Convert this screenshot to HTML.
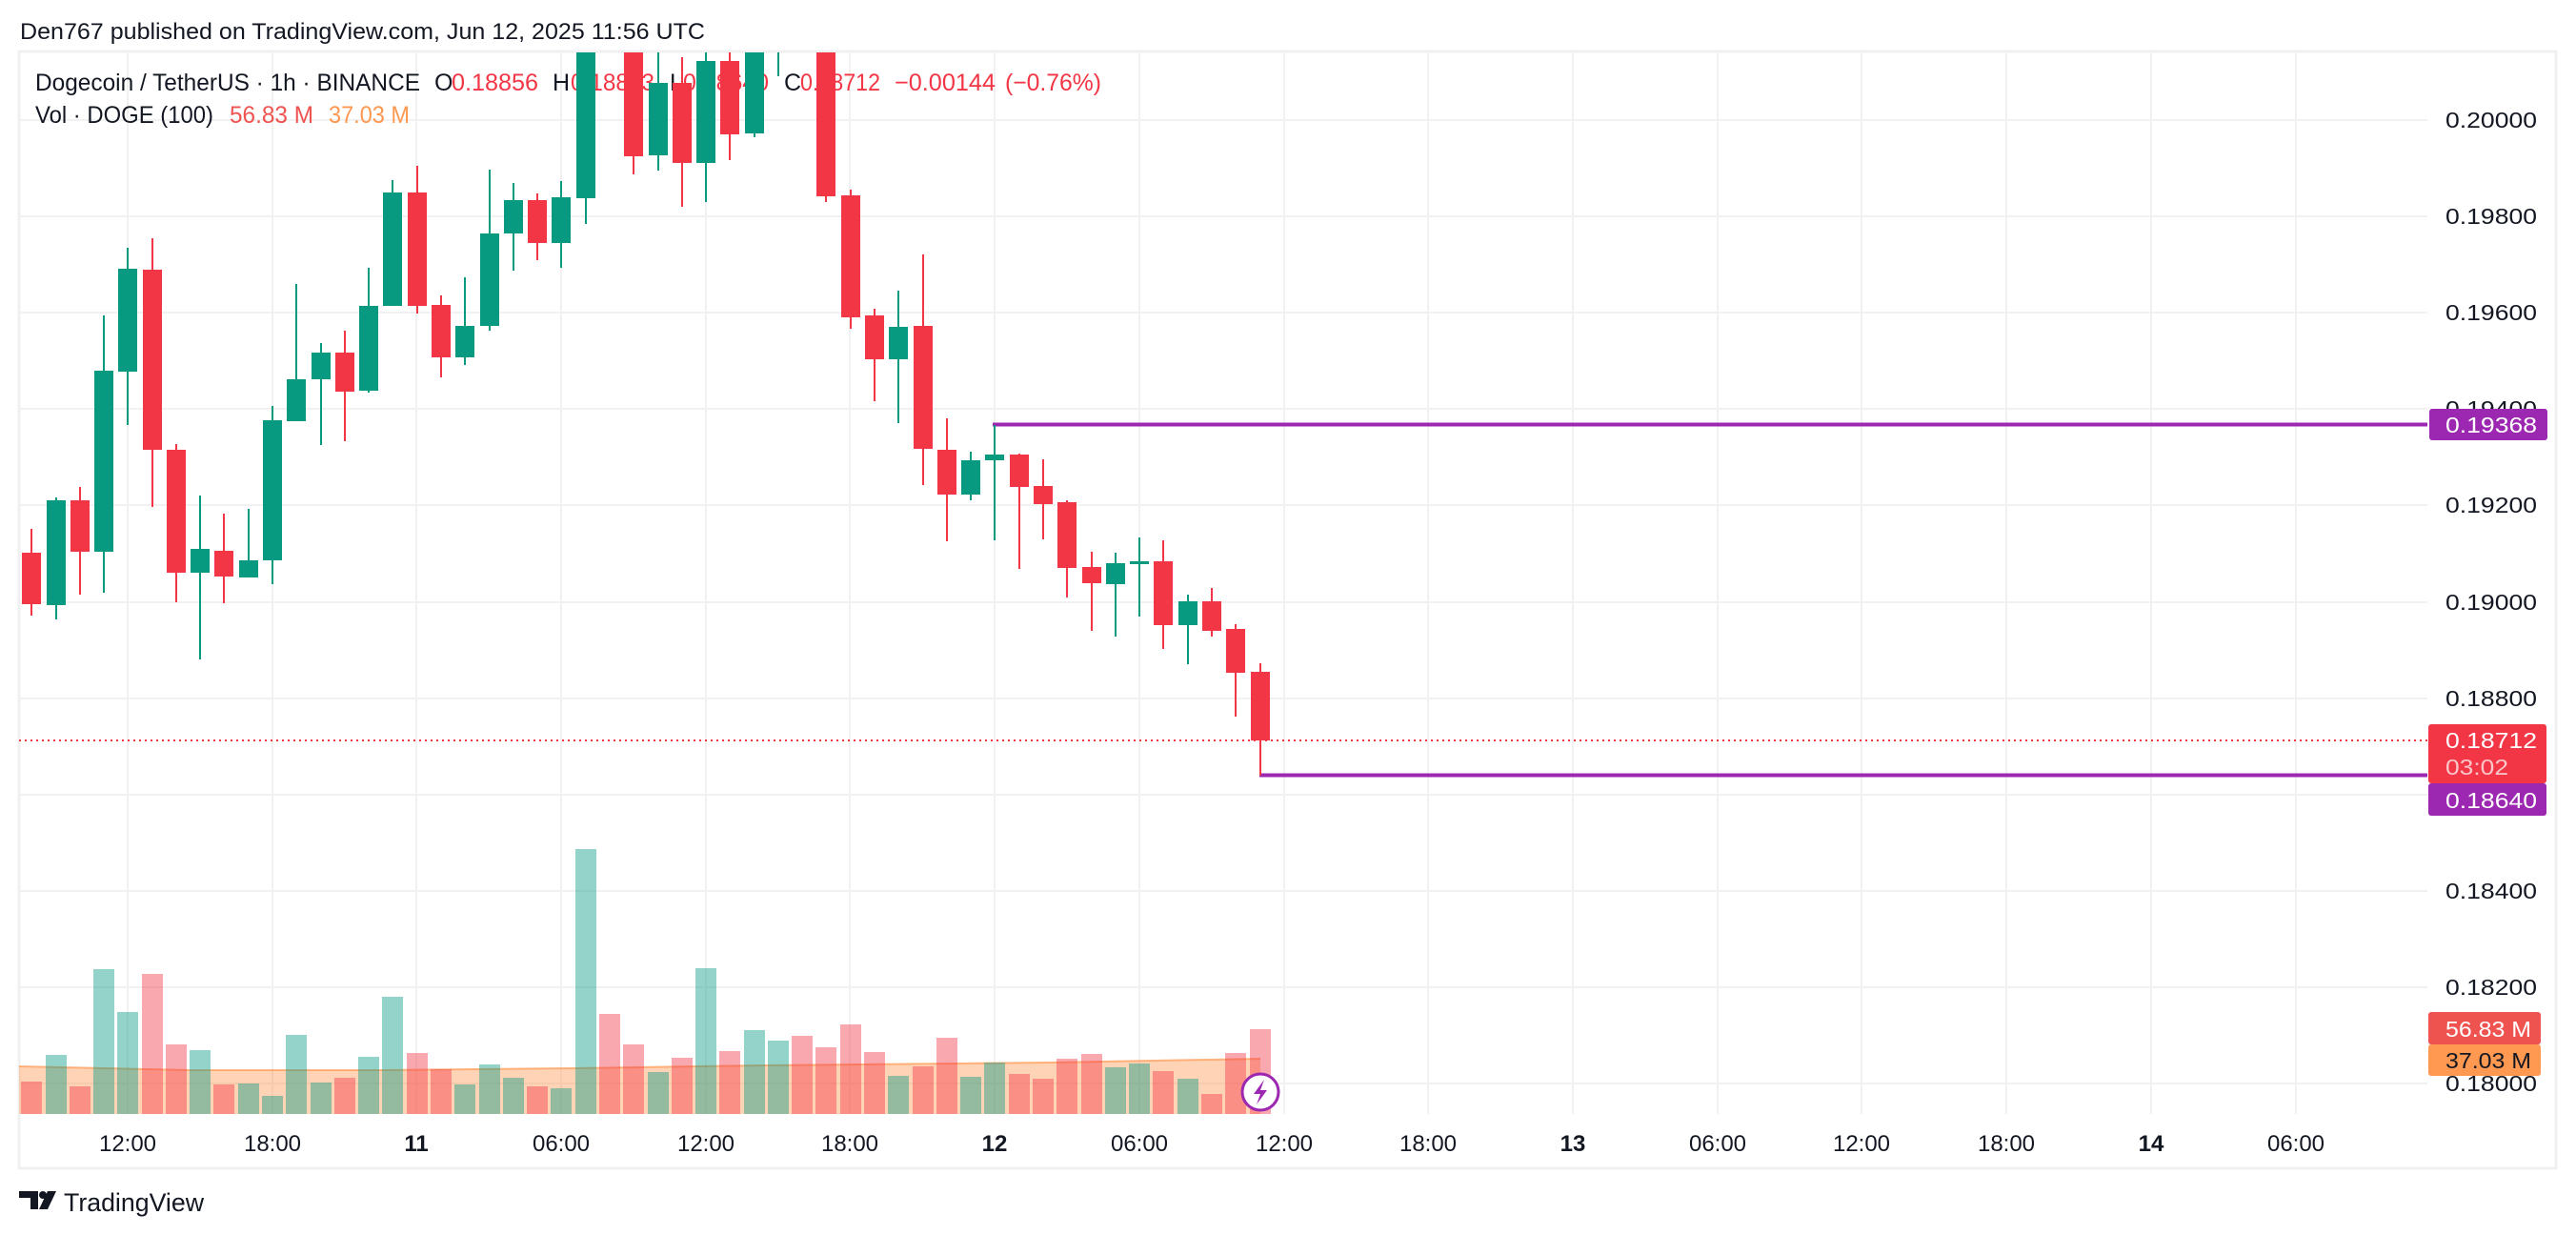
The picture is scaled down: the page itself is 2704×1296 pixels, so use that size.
<!DOCTYPE html>
<html><head><meta charset="utf-8"><style>
html,body{margin:0;padding:0;background:#fff;}
svg{display:block;font-family:"Liberation Sans",sans-serif;}
</style></head><body>
<svg width="2704" height="1296" viewBox="0 0 2704 1296" xmlns="http://www.w3.org/2000/svg">
<defs><clipPath id="pc"><rect x="20" y="55" width="2528" height="1114"/></clipPath></defs>
<rect width="2704" height="1296" fill="#fff"/>
<text x="21" y="41" font-size="24" fill="#131722" textLength="719" lengthAdjust="spacingAndGlyphs">Den767 published on TradingView.com, Jun 12, 2025 11:56 UTC</text>
<rect x="20" y="54" width="2663" height="1172" fill="none" stroke="#f0f0f0" stroke-width="3"/>
<g stroke="#f1f1f1" stroke-width="2">
<line x1="20" x2="2548" y1="126" y2="126"/><line x1="20" x2="2548" y1="227" y2="227"/><line x1="20" x2="2548" y1="328" y2="328"/><line x1="20" x2="2548" y1="429" y2="429"/><line x1="20" x2="2548" y1="530" y2="530"/><line x1="20" x2="2548" y1="632" y2="632"/><line x1="20" x2="2548" y1="733" y2="733"/><line x1="20" x2="2548" y1="834" y2="834"/><line x1="20" x2="2548" y1="935" y2="935"/><line x1="20" x2="2548" y1="1036" y2="1036"/><line x1="20" x2="2548" y1="1137" y2="1137"/>
<line x1="134" x2="134" y1="55" y2="1169"/><line x1="286" x2="286" y1="55" y2="1169"/><line x1="437" x2="437" y1="55" y2="1169"/><line x1="589" x2="589" y1="55" y2="1169"/><line x1="741" x2="741" y1="55" y2="1169"/><line x1="892" x2="892" y1="55" y2="1169"/><line x1="1044" x2="1044" y1="55" y2="1169"/><line x1="1196" x2="1196" y1="55" y2="1169"/><line x1="1348" x2="1348" y1="55" y2="1169"/><line x1="1499" x2="1499" y1="55" y2="1169"/><line x1="1651" x2="1651" y1="55" y2="1169"/><line x1="1803" x2="1803" y1="55" y2="1169"/><line x1="1954" x2="1954" y1="55" y2="1169"/><line x1="2106" x2="2106" y1="55" y2="1169"/><line x1="2258" x2="2258" y1="55" y2="1169"/><line x1="2410" x2="2410" y1="55" y2="1169"/>
</g>
<!-- legend -->
<g font-size="25">
<text x="37" y="95" fill="#131722" textLength="404" lengthAdjust="spacingAndGlyphs">Dogecoin / TetherUS · 1h · BINANCE</text>
<text x="456" y="95" fill="#131722">O</text><text x="474" y="95" fill="#f23645" textLength="91" lengthAdjust="spacingAndGlyphs">0.18856</text>
<text x="580" y="95" fill="#131722">H</text><text x="599" y="95" fill="#f23645" textLength="88" lengthAdjust="spacingAndGlyphs">0.18883</text>
<text x="703" y="95" fill="#131722">L</text><text x="717" y="95" fill="#f23645" textLength="90" lengthAdjust="spacingAndGlyphs">0.18640</text>
<text x="823" y="95" fill="#131722">C</text><text x="840" y="95" fill="#f23645" textLength="84" lengthAdjust="spacingAndGlyphs">0.18712</text>
<text x="939" y="95" fill="#f23645" textLength="106" lengthAdjust="spacingAndGlyphs">−0.00144</text>
<text x="1055" y="95" fill="#f23645" textLength="101" lengthAdjust="spacingAndGlyphs">(−0.76%)</text>
<text x="37" y="129" fill="#131722" textLength="187" lengthAdjust="spacingAndGlyphs">Vol · DOGE (100)</text>
<text x="241" y="129" fill="#ef5350" textLength="88" lengthAdjust="spacingAndGlyphs">56.83 M</text>
<text x="345" y="129" fill="#ff9850" textLength="85" lengthAdjust="spacingAndGlyphs">37.03 M</text>
</g>
<g clip-path="url(#pc)">
<!-- volume MA area -->
<polygon points="20,1119 200,1123 400,1123 600,1121 800,1118 900,1117 1100,1115 1323,1111 1323,1169 20,1169" fill="rgba(255,140,60,0.38)"/>
<polyline points="20,1119 200,1123 400,1123 600,1121 800,1118 900,1117 1100,1115 1323,1111" fill="none" stroke="rgba(255,140,60,0.6)" stroke-width="2"/>
<g fill="rgba(8,153,129,0.43)">
<rect x="48" y="1107" width="22" height="62"/><rect x="98" y="1017" width="22" height="152"/><rect x="123" y="1062" width="22" height="107"/><rect x="199" y="1102" width="22" height="67"/><rect x="250" y="1137" width="22" height="32"/><rect x="275" y="1150" width="22" height="19"/><rect x="300" y="1086" width="22" height="83"/><rect x="326" y="1136" width="22" height="33"/><rect x="376" y="1109" width="22" height="60"/><rect x="401" y="1046" width="22" height="123"/><rect x="477" y="1138" width="22" height="31"/><rect x="503" y="1117" width="22" height="52"/><rect x="528" y="1131" width="22" height="38"/><rect x="578" y="1142" width="22" height="27"/><rect x="604" y="891" width="22" height="278"/><rect x="680" y="1125" width="22" height="44"/><rect x="730" y="1016" width="22" height="153"/><rect x="781" y="1081" width="22" height="88"/><rect x="806" y="1092" width="22" height="77"/><rect x="932" y="1129" width="22" height="40"/><rect x="1008" y="1130" width="22" height="39"/><rect x="1033" y="1115" width="22" height="54"/><rect x="1160" y="1120" width="22" height="49"/><rect x="1185" y="1116" width="22" height="53"/><rect x="1236" y="1132" width="22" height="37"/>
</g>
<g fill="rgba(242,54,69,0.43)">
<rect x="22" y="1135" width="22" height="34"/><rect x="73" y="1140" width="22" height="29"/><rect x="149" y="1022" width="22" height="147"/><rect x="174" y="1096" width="22" height="73"/><rect x="224" y="1138" width="22" height="31"/><rect x="351" y="1131" width="22" height="38"/><rect x="427" y="1105" width="22" height="64"/><rect x="452" y="1122" width="22" height="47"/><rect x="553" y="1140" width="22" height="29"/><rect x="629" y="1064" width="22" height="105"/><rect x="654" y="1096" width="22" height="73"/><rect x="705" y="1110" width="22" height="59"/><rect x="755" y="1103" width="22" height="66"/><rect x="831" y="1087" width="22" height="82"/><rect x="856" y="1099" width="22" height="70"/><rect x="882" y="1075" width="22" height="94"/><rect x="907" y="1104" width="22" height="65"/><rect x="958" y="1119" width="22" height="50"/><rect x="983" y="1089" width="22" height="80"/><rect x="1059" y="1127" width="22" height="42"/><rect x="1084" y="1132" width="22" height="37"/><rect x="1109" y="1111" width="22" height="58"/><rect x="1135" y="1106" width="22" height="63"/><rect x="1210" y="1124" width="22" height="45"/><rect x="1261" y="1148" width="22" height="21"/><rect x="1286" y="1105" width="22" height="64"/><rect x="1312" y="1080" width="22" height="89"/>
</g>
<!-- lines -->
<line x1="20" x2="2548" y1="777" y2="777" stroke="#f23645" stroke-width="2" stroke-dasharray="2 4"/>
<line x1="1042" x2="2548" y1="445.5" y2="445.5" stroke="#9c27b0" stroke-width="4"/>
<line x1="1322" x2="2548" y1="813.5" y2="813.5" stroke="#9c27b0" stroke-width="4"/>
<!-- candles green -->
<g fill="#089981" stroke="#089981">
<g stroke-width="2">
<line x1="59" x2="59" y1="522" y2="650"/><line x1="109" x2="109" y1="331" y2="622"/><line x1="134" x2="134" y1="260" y2="446"/><line x1="210" x2="210" y1="520" y2="692"/><line x1="261" x2="261" y1="534" y2="606"/><line x1="286" x2="286" y1="426" y2="613"/><line x1="311" x2="311" y1="298" y2="442"/><line x1="337" x2="337" y1="360" y2="467"/><line x1="387" x2="387" y1="281" y2="412"/><line x1="412" x2="412" y1="189" y2="321"/><line x1="488" x2="488" y1="291" y2="383"/><line x1="514" x2="514" y1="178" y2="347"/><line x1="539" x2="539" y1="192" y2="284"/><line x1="589" x2="589" y1="190" y2="281"/><line x1="615" x2="615" y1="20" y2="235"/><line x1="691" x2="691" y1="40" y2="179"/><line x1="741" x2="741" y1="30" y2="212"/><line x1="792" x2="792" y1="20" y2="144"/><line x1="817" x2="817" y1="0" y2="80"/><line x1="943" x2="943" y1="305" y2="444"/><line x1="1019" x2="1019" y1="474" y2="525"/><line x1="1044" x2="1044" y1="446" y2="567"/><line x1="1171" x2="1171" y1="580" y2="668"/><line x1="1196" x2="1196" y1="564" y2="647"/><line x1="1247" x2="1247" y1="624" y2="697"/>
</g>
<g stroke="none">
<rect x="49" y="525" width="20" height="110"/><rect x="99" y="389" width="20" height="190"/><rect x="124" y="282" width="20" height="108"/><rect x="200" y="576" width="20" height="25"/><rect x="251" y="588" width="20" height="18"/><rect x="276" y="441" width="20" height="147"/><rect x="301" y="398" width="20" height="44"/><rect x="327" y="370" width="20" height="28"/><rect x="377" y="321" width="20" height="89"/><rect x="402" y="202" width="20" height="119"/><rect x="478" y="342" width="20" height="33"/><rect x="504" y="245" width="20" height="97"/><rect x="529" y="210" width="20" height="35"/><rect x="579" y="207" width="20" height="48"/><rect x="605" y="30" width="20" height="178"/><rect x="681" y="87" width="20" height="76"/><rect x="731" y="64" width="20" height="107"/><rect x="782" y="30" width="20" height="110"/><rect x="807" y="10" width="20" height="35"/><rect x="933" y="343" width="20" height="34"/><rect x="1009" y="483" width="20" height="36"/><rect x="1034" y="477" width="20" height="6"/><rect x="1161" y="591" width="20" height="22"/><rect x="1186" y="589" width="20" height="3"/><rect x="1237" y="631" width="20" height="25"/>
</g></g>
<!-- candles red -->
<g fill="#f23645" stroke="#f23645">
<g stroke-width="2">
<line x1="33" x2="33" y1="555" y2="646"/><line x1="84" x2="84" y1="511" y2="624"/><line x1="160" x2="160" y1="250" y2="532"/><line x1="185" x2="185" y1="466" y2="632"/><line x1="235" x2="235" y1="539" y2="633"/><line x1="362" x2="362" y1="347" y2="463"/><line x1="438" x2="438" y1="174" y2="329"/><line x1="463" x2="463" y1="310" y2="396"/><line x1="564" x2="564" y1="203" y2="273"/><line x1="640" x2="640" y1="-40" y2="40"/><line x1="665" x2="665" y1="20" y2="183"/><line x1="716" x2="716" y1="60" y2="217"/><line x1="766" x2="766" y1="40" y2="168"/><line x1="842" x2="842" y1="-20" y2="40"/><line x1="867" x2="867" y1="20" y2="212"/><line x1="893" x2="893" y1="199" y2="345"/><line x1="918" x2="918" y1="324" y2="421"/><line x1="969" x2="969" y1="267" y2="509"/><line x1="994" x2="994" y1="439" y2="568"/><line x1="1070" x2="1070" y1="476" y2="597"/><line x1="1095" x2="1095" y1="482" y2="566"/><line x1="1120" x2="1120" y1="525" y2="627"/><line x1="1146" x2="1146" y1="579" y2="662"/><line x1="1221" x2="1221" y1="567" y2="681"/><line x1="1272" x2="1272" y1="617" y2="668"/><line x1="1297" x2="1297" y1="655" y2="752"/><line x1="1323" x2="1323" y1="696" y2="814"/>
</g>
<g stroke="none">
<rect x="23" y="580" width="20" height="54"/><rect x="74" y="525" width="20" height="54"/><rect x="150" y="283" width="20" height="189"/><rect x="175" y="472" width="20" height="129"/><rect x="225" y="578" width="20" height="27"/><rect x="352" y="370" width="20" height="41"/><rect x="428" y="202" width="20" height="119"/><rect x="453" y="320" width="20" height="55"/><rect x="554" y="210" width="20" height="45"/><rect x="630" y="-10" width="20" height="50"/><rect x="655" y="30" width="20" height="134"/><rect x="706" y="87" width="20" height="84"/><rect x="756" y="64" width="20" height="77"/><rect x="832" y="-10" width="20" height="40"/><rect x="857" y="30" width="20" height="176"/><rect x="883" y="205" width="20" height="128"/><rect x="908" y="331" width="20" height="46"/><rect x="959" y="342" width="20" height="129"/><rect x="984" y="472" width="20" height="47"/><rect x="1060" y="477" width="20" height="34"/><rect x="1085" y="510" width="20" height="19"/><rect x="1110" y="527" width="20" height="69"/><rect x="1136" y="595" width="20" height="17"/><rect x="1211" y="589" width="20" height="67"/><rect x="1262" y="631" width="20" height="31"/><rect x="1287" y="660" width="20" height="46"/><rect x="1313" y="705" width="20" height="72"/>
</g></g>
<!-- lightning -->
<circle cx="1323" cy="1146" r="19" fill="#fff" stroke="#9c27b0" stroke-width="3"/>
<polygon points="1327,1133 1316,1148 1323,1148 1319,1159 1330,1144 1323,1144" fill="#9c27b0"/>
</g>
<!-- price axis labels -->
<g font-size="23" fill="#131722">
<text x="2567" y="134" textLength="96" lengthAdjust="spacingAndGlyphs">0.20000</text>
<text x="2567" y="235" textLength="96" lengthAdjust="spacingAndGlyphs">0.19800</text>
<text x="2567" y="336" textLength="96" lengthAdjust="spacingAndGlyphs">0.19600</text>
<text x="2567" y="437" textLength="96" lengthAdjust="spacingAndGlyphs">0.19400</text>
<text x="2567" y="538" textLength="96" lengthAdjust="spacingAndGlyphs">0.19200</text>
<text x="2567" y="640" textLength="96" lengthAdjust="spacingAndGlyphs">0.19000</text>
<text x="2567" y="741" textLength="96" lengthAdjust="spacingAndGlyphs">0.18800</text>
<text x="2567" y="943" textLength="96" lengthAdjust="spacingAndGlyphs">0.18400</text>
<text x="2567" y="1044" textLength="96" lengthAdjust="spacingAndGlyphs">0.18200</text>
<text x="2567" y="1145" textLength="96" lengthAdjust="spacingAndGlyphs">0.18000</text>
</g>
<g font-size="23">
<rect x="2550" y="429" width="124" height="33" rx="3" fill="#9c27b0"/>
<text x="2567" y="454" fill="#fff" textLength="96" lengthAdjust="spacingAndGlyphs">0.19368</text>
<rect x="2549" y="760" width="124" height="62" rx="3" fill="#f23645"/>
<text x="2567" y="785" fill="#fff" textLength="96" lengthAdjust="spacingAndGlyphs">0.18712</text>
<text x="2567" y="813" fill="#fbc5ca" textLength="66" lengthAdjust="spacingAndGlyphs">03:02</text>
<rect x="2549" y="822" width="124" height="34" rx="3" fill="#9c27b0"/>
<text x="2567" y="848" fill="#fff" textLength="96" lengthAdjust="spacingAndGlyphs">0.18640</text>
<rect x="2549" y="1062" width="118" height="34" rx="3" fill="#ef5350"/>
<text x="2567" y="1088" fill="#fff" textLength="90" lengthAdjust="spacingAndGlyphs">56.83 M</text>
<rect x="2549" y="1096" width="118" height="33" rx="3" fill="#ff9850"/>
<text x="2567" y="1121" fill="#131722" textLength="90" lengthAdjust="spacingAndGlyphs">37.03 M</text>
</g>
<!-- time axis -->
<g font-size="24" fill="#131722" text-anchor="middle">
<text x="134" y="1208">12:00</text><text x="286" y="1208">18:00</text><text x="437" y="1208" font-weight="bold">11</text><text x="589" y="1208">06:00</text><text x="741" y="1208">12:00</text><text x="892" y="1208">18:00</text><text x="1044" y="1208" font-weight="bold">12</text><text x="1196" y="1208">06:00</text><text x="1348" y="1208">12:00</text><text x="1499" y="1208">18:00</text><text x="1651" y="1208" font-weight="bold">13</text><text x="1803" y="1208">06:00</text><text x="1954" y="1208">12:00</text><text x="2106" y="1208">18:00</text><text x="2258" y="1208" font-weight="bold">14</text><text x="2410" y="1208">06:00</text>
</g>
<!-- logo -->
<g fill="#131722">
<rect x="20" y="1250" width="20" height="7"/><rect x="32" y="1250" width="8" height="19"/>
<circle cx="45" cy="1254" r="4"/>
<polygon points="50,1250 59,1250 50,1269 41,1269"/>
</g>
<text x="67" y="1271" font-size="27" fill="#131722" textLength="147" lengthAdjust="spacingAndGlyphs">TradingView</text>
</svg>
</body></html>
